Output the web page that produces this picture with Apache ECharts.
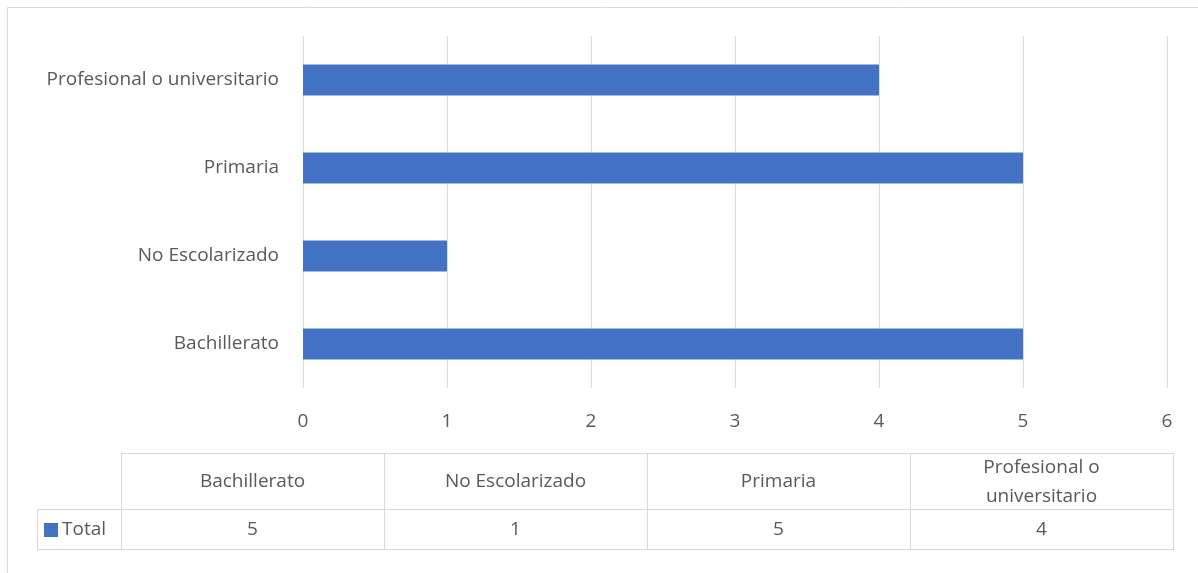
<!DOCTYPE html>
<html>
<head>
<meta charset="utf-8">
<script src="https://cdn.jsdelivr.net/npm/echarts@6/dist/echarts.min.js"></script>
<style>
html,body{margin:0;padding:0;background:#fff;}
#chart{width:1198px;height:573px;}
</style>
</head>
<body>
<div id="chart"></div>
<script>
const categories = ['Bachillerato', 'No Escolarizado', 'Primaria', 'Profesional o universitario'];
const seriesName = 'Total';
const totalValues = [5, 1, 5, 4];
const xTicks = [0, 1, 2, 3, 4, 5, 6];

const FONT = 'Open Sans';
const FS = 19;
const TXT = '#595959';
const GRID = '#d9d9d9';
const BAR = '#4472C4';

const chart = echarts.init(document.getElementById('chart'), null, {renderer: 'canvas'});

// word wrap helper for table header cells
const mctx = document.createElement('canvas').getContext('2d');
mctx.font = FS + 'px "' + FONT + '"';
function wrap(text, maxW) {
  const words = text.split(' ');
  const lines = [];
  let cur = '';
  words.forEach(function (w) {
    const t = cur ? cur + ' ' + w : w;
    if (cur && mctx.measureText(t).width > maxW) { lines.push(cur); cur = w; } else { cur = t; }
  });
  if (cur) lines.push(cur);
  return lines.join('\n');
}

// table layout
const tblLeft = 121, colW = 263, hdrTop = 453, rowTop = 509, rowBot = 549, legLeft = 37;
const tblRight = tblLeft + colW * categories.length;
const g = [];
g.push({type: 'rect', shape: {x: 7.5, y: 7.5, width: 1300, height: 700}, style: {fill: 'none', stroke: GRID, lineWidth: 1}, silent: true});
function hline(x1, x2, y) { g.push({type: 'line', shape: {x1: x1, y1: y + 0.5, x2: x2, y2: y + 0.5}, style: {stroke: GRID, lineWidth: 1}, silent: true}); }
function vline(x, y1, y2) { g.push({type: 'line', shape: {x1: x + 0.5, y1: y1, x2: x + 0.5, y2: y2}, style: {stroke: GRID, lineWidth: 1}, silent: true}); }
hline(tblLeft, tblRight, hdrTop);
hline(legLeft, tblRight, rowTop);
hline(legLeft, tblRight, rowBot);
vline(legLeft, rowTop, rowBot + 1);
for (let i = 0; i <= categories.length; i++) vline(tblLeft + i * colW, hdrTop, rowBot + 1);
categories.forEach(function (c, i) {
  const cx = tblLeft + i * colW + colW / 2;
  g.push({type: 'text', x: cx, y: (hdrTop + rowTop) / 2 + 1, silent: true,
    style: {text: wrap(c, 220), lineHeight: 29, align: 'center', verticalAlign: 'middle',
      fill: TXT, font: FS + 'px "' + FONT + '"'}});
  g.push({type: 'text', x: cx, y: (rowTop + rowBot) / 2 + 1, silent: true,
    style: {text: String(totalValues[i]), align: 'center', verticalAlign: 'middle', fill: TXT, font: FS + 'px "' + FONT + '"'}});
});
g.push({type: 'rect', shape: {x: 44, y: 523, width: 14, height: 14}, style: {fill: BAR}, silent: true});
g.push({type: 'text', x: 62, y: (rowTop + rowBot) / 2 + 1, silent: true,
  style: {text: seriesName, align: 'left', verticalAlign: 'middle', fill: TXT, font: FS + 'px "' + FONT + '"'}});

chart.setOption({
  animation: false,
  backgroundColor: '#ffffff',
  textStyle: {fontFamily: FONT},
  grid: {left: 303, right: 31, top: 36, bottom: 185, containLabel: false},
  xAxis: {
    type: 'value', min: xTicks[0], max: xTicks[xTicks.length - 1], interval: 1,
    axisLine: {show: false}, axisTick: {show: false},
    axisLabel: {color: TXT, fontSize: FS, margin: 24, fontFamily: FONT},
    splitLine: {show: true, lineStyle: {color: GRID, width: 1}}
  },
  yAxis: {
    type: 'category', data: categories,
    axisLine: {show: false}, axisTick: {show: false},
    axisLabel: {color: TXT, fontSize: FS, margin: 24, fontFamily: FONT},
    splitLine: {show: false}
  },
  series: [{
    name: seriesName, type: 'bar', data: totalValues,
    barWidth: 31, itemStyle: {color: BAR}
  }],
  graphic: g
});
</script>
</body>
</html>
